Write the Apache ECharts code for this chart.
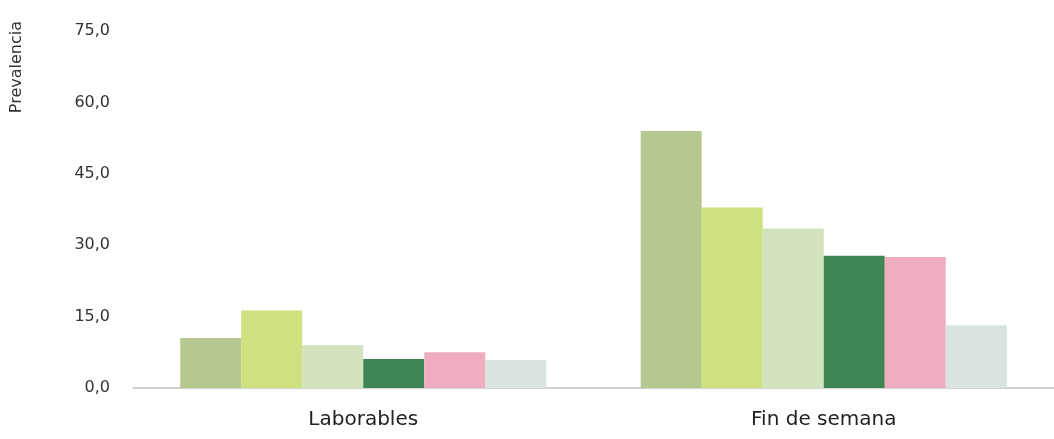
<!DOCTYPE html>
<html><head><meta charset="utf-8">
<script src="https://cdn.jsdelivr.net/npm/echarts@6/dist/echarts.min.js"></script>
<style>html,body{margin:0;padding:0;background:#fff}#c{width:1054px;height:439px}</style>
</head><body><div id="c"></div>
<script>
const categories = ['Laborables', 'Fin de semana'];
const s1 = [10.5, 54.0];
const s2 = [16.3, 37.9];
const s3 = [9.0, 33.5];
const s4 = [6.1, 27.8];
const s5 = [7.5, 27.5];
const s6 = [5.9, 13.2];
const yTicks = [0, 15, 30, 45, 60, 75];
const yName = 'Prevalencia';
const colors = ['#b6c88f', '#cde27f', '#d3e3bd', '#3e8653', '#f1adc0', '#d9e3df'];
const seriesData = [s1, s2, s3, s4, s5, s6];

const chart = echarts.init(document.getElementById('c'));
chart.setOption({
  animation: false,
  grid: { left: 133, right: -9, top: 31, bottom: 51 },
  graphic: [{
    type: 'text', left: 9, top: 21, rotation: Math.PI / 2,
    style: { text: yName, fill: '#333', fontSize: 16, fontFamily: 'DejaVu Sans' }
  }],
  xAxis: {
    type: 'category', data: categories,
    axisLine: { lineStyle: { color: '#c4c4c4', width: 1.5 } },
    axisTick: { show: false },
    axisLabel: { color: '#222', fontSize: 20, fontFamily: 'DejaVu Sans', margin: 22 }
  },
  yAxis: {
    type: 'value', min: yTicks[0], max: yTicks[yTicks.length - 1], interval: 15,
    axisLine: { show: false }, axisTick: { show: false },
    splitLine: { show: false },
    axisLabel: { color: '#333', fontSize: 16, fontFamily: 'DejaVu Sans', margin: 23,
      formatter: v => v.toFixed(1).replace('.', ',') }
  },
  series: seriesData.map((d, i) => ({
    type: 'bar', data: d, barGap: '0%', barCategoryGap: '20.5%',
    itemStyle: { color: colors[i] }
  }))
});
</script></body></html>
